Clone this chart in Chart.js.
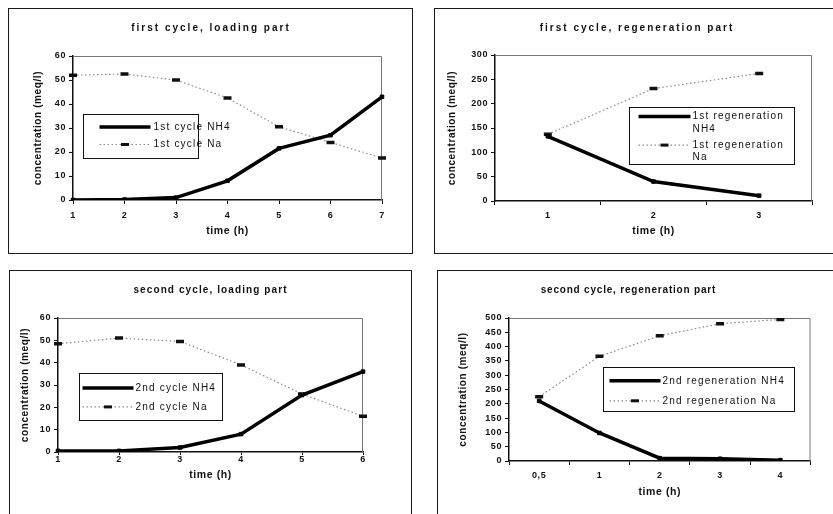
<!DOCTYPE html>
<html>
<head>
<meta charset="utf-8">
<script src="https://cdn.jsdelivr.net/npm/chart.js@4.4.1/dist/chart.umd.min.js"></script>
<style>
    html, body { margin: 0; padding: 0; background: #fff; width: 833px; height: 514px; overflow: hidden; }
    .frame { position: absolute; border: 1px solid #1a1a1a; box-sizing: border-box; background: #fff; }
    .frame canvas { position: absolute; left: 0; top: 0; }
</style>
</head>
<body>
<div class="frame" style="left:8px; top:8px; width:405px; height:246px;"><canvas id="loading1Chart" width="402" height="243"></canvas></div>
<div class="frame" style="left:434px; top:8px; width:420px; height:246px;"><canvas id="regen1Chart" width="402" height="243"></canvas></div>
<div class="frame" style="left:9px; top:270px; width:403px; height:260px;"><canvas id="loading2Chart" width="400" height="248"></canvas></div>
<div class="frame" style="left:437px; top:270px; width:420px; height:260px;"><canvas id="regen2Chart" width="380" height="248"></canvas></div>
<script>
// first cycle, loading part
const loading1Hours = ['1', '2', '3', '4', '5', '6', '7'];
const loading1NH4 = [0, 0.2, 1, 8, 21.5, 27, 43];
const loading1Na = [52, 52.5, 50, 42.5, 30.5, 24, 17.5];

// first cycle, regeneration part
const regen1Hours = ['1', '2', '3'];
const regen1NH4 = [133, 40, 11];
const regen1Na = [137, 231, 262];

// second cycle, loading part
const loading2Hours = ['1', '2', '3', '4', '5', '6'];
const loading2NH4 = [0.5, 0.5, 2, 8, 25.5, 36];
const loading2Na = [48.5, 51, 49.5, 39, 26, 16];

// second cycle, regeneration part
const regen2Hours = ['0,5', '1', '2', '3', '4'];
const regen2NH4 = [210, 98, 10, 8, 3];
const regen2Na = [225, 366, 438, 480, 495];

Chart.defaults.font.family = '"Liberation Sans", Arial, sans-serif';
Chart.defaults.color = '#111';

const ink = '#111';
const fontStack = '"Liberation Sans", Arial, sans-serif';

const nh4Style = {
    borderColor: '#000',
    borderWidth: 3.5,
    pointStyle: 'rect',
    pointRadius: 2.5,
    pointBackgroundColor: '#000',
    pointBorderColor: '#000',
    pointBorderWidth: 1,
    tension: 0,
};

const naStyle = {
    borderColor: '#8a8a8a',
    borderWidth: 1.2,
    borderDash: [1.5, 2.5],
    pointStyle: 'line',
    pointRadius: 4,
    pointBorderColor: ink,
    pointBorderWidth: 3.5,
    tension: 0,
};

// top and right edge of the plot area
const plotFrame = {
    id: 'plotFrame',
    beforeDatasetsDraw(chart) {
        const { ctx, chartArea } = chart;
        ctx.save();
        ctx.strokeStyle = '#777';
        ctx.lineWidth = 1;
        ctx.beginPath();
        ctx.moveTo(chartArea.left, chartArea.top + 0.5);
        ctx.lineTo(chartArea.right - 0.5, chartArea.top + 0.5);
        ctx.lineTo(chartArea.right - 0.5, chartArea.bottom);
        ctx.stroke();
        ctx.restore();
    },
};

// the scanned figure has widely spaced lettering; the title is drawn
// by hand, centred on the whole canvas like the original
const spacedText = {
    id: 'spacedText',
    beforeDraw(chart, args, opts) {
        chart.ctx.letterSpacing = '0.6px';
        const block = chart.titleBlock;
        if (block && !block._spaced) {
            block.draw = () => {
                const ctx = chart.ctx;
                const text = block.options.text;
                const spacing = opts.titleSpacing;
                ctx.save();
                ctx.font = 'bold 10px ' + fontStack;
                ctx.letterSpacing = spacing + 'px';
                ctx.fillStyle = ink;
                ctx.textAlign = 'left';
                ctx.textBaseline = 'middle';
                const width = ctx.measureText(text).width - spacing;
                const y = block.top + block._padding.top + 6;
                ctx.fillText(text, chart.width / 2 - width / 2, y);
                ctx.restore();
            };
            block._spaced = true;
        }
    },
};

// boxed legend sitting inside the plot area
const boxLegend = {
    id: 'boxLegend',
    afterDraw(chart, args, opts) {
        const { ctx, chartArea } = chart;
        const left = Math.round(chartArea.left + opts.x) + 0.5;
        const top = Math.round(chartArea.top + opts.y) + 0.5;
        ctx.save();
        ctx.setLineDash([]);
        ctx.fillStyle = '#fff';
        ctx.fillRect(left, top, opts.w, opts.h);
        ctx.strokeStyle = ink;
        ctx.lineWidth = 1;
        ctx.strokeRect(left, top, opts.w, opts.h);
        ctx.font = '10px ' + fontStack;
        ctx.letterSpacing = '1.2px';
        ctx.textAlign = 'left';
        ctx.textBaseline = 'middle';

        chart.data.datasets.forEach((ds, i) => {
            const rowY = top + opts.row0 + i * opts.rowGap;
            const x0 = left + opts.s0;
            const x1 = left + opts.s1;
            ctx.strokeStyle = ds.borderColor;
            ctx.lineWidth = ds.borderWidth;
            ctx.setLineDash(ds.borderDash || []);
            ctx.beginPath();
            ctx.moveTo(x0, rowY);
            ctx.lineTo(x1, rowY);
            ctx.stroke();
            ctx.setLineDash([]);
            if (ds.pointStyle === 'line') {
                ctx.fillStyle = ds.pointBorderColor;
                ctx.fillRect((x0 + x1) / 2 - 4, rowY - 1.5, 8, 3);
            }
            ctx.fillStyle = ink;
            const cut = ds.label.lastIndexOf(' ');
            const lines = opts.wrap ? [ds.label.slice(0, cut), ds.label.slice(cut + 1)] : [ds.label];
            lines.forEach((line, k) => ctx.fillText(line, left + opts.tx, rowY + k * opts.lineGap));
        });
        ctx.restore();
    },
};

function makePanel(canvasId, setup) {
    const canvas = document.getElementById(canvasId);
    if (!canvas) {
        return;
    }

    new Chart(canvas, {
        type: 'line',
        data: {
            labels: setup.hours,
            datasets: [
                { label: setup.names[0], data: setup.nh4, ...nh4Style },
                { label: setup.names[1], data: setup.na, ...naStyle },
            ],
        },
        plugins: [spacedText, plotFrame, boxLegend],
        options: {
            responsive: false,
            animation: false,
            events: [],
            layout: { padding: { left: 0, top: 0, bottom: 0, right: setup.padRight } },
            plugins: {
                legend: { display: false },
                tooltip: { enabled: false },
                title: {
                    display: true,
                    text: setup.title,
                    color: ink,
                    font: { size: 10, weight: 'bold' },
                    padding: { top: 13, bottom: setup.titleGap },
                },
                spacedText: { titleSpacing: setup.titleSpacing },
                boxLegend: setup.legend,
            },
            scales: {
                x: {
                    offset: setup.offset,
                    grid: {
                        drawOnChartArea: false,
                        offset: setup.offset,
                        color: ink,
                        tickLength: setup.xTickLength,
                    },
                    border: { color: ink, width: 1.5 },
                    ticks: {
                        color: ink,
                        font: { size: 9, weight: 'bold' },
                        padding: setup.xTickPad,
                        maxRotation: 0,
                        autoSkip: false,
                    },
                    title: {
                        display: true,
                        text: 'time (h)',
                        color: ink,
                        font: { size: 10.5, weight: 'bold' },
                        padding: { top: 0, bottom: setup.xTitlePad },
                    },
                    afterFit: (scale) => { scale.height = setup.xHeight; },
                },
                y: {
                    min: 0,
                    max: setup.yMax,
                    ticks: {
                        stepSize: setup.yStep,
                        autoSkip: false,
                        color: ink,
                        font: { size: 9, weight: 'bold' },
                        padding: 3,
                    },
                    grid: { drawOnChartArea: false, color: ink, tickLength: 4 },
                    border: { color: ink, width: 1.5 },
                    title: {
                        display: true,
                        text: 'concentration (meq/l)',
                        color: ink,
                        font: { size: 10, weight: 'bold' },
                        padding: { top: setup.yTitlePad, bottom: 0 },
                    },
                    afterFit: (scale) => { scale.width = setup.yWidth; },
                },
            },
        },
    });
}

document.addEventListener('DOMContentLoaded', () => {
    makePanel('loading1Chart', {
        title: 'first cycle, loading part',
        titleSpacing: 2,
        hours: loading1Hours,
        nh4: loading1NH4,
        na: loading1Na,
        names: ['1st cycle NH4', '1st cycle Na'],
        yMax: 60, yStep: 10, offset: false,
        padRight: 29, titleGap: 22, yWidth: 64, yTitlePad: 23, xHeight: 52,
        xTickLength: 4, xTickPad: 6, xTitlePad: 14.7,
        legend: { x: 10, y: 58, w: 115, h: 44, row0: 12.5, rowGap: 17.5, lineGap: 0, s0: 16, s1: 67, tx: 70, wrap: false },
    });

    makePanel('regen1Chart', {
        title: 'first cycle, regeneration part',
        titleSpacing: 2,
        hours: regen1Hours,
        nh4: regen1NH4,
        na: regen1Na,
        names: ['1st regeneration NH4', '1st regeneration Na'],
        yMax: 300, yStep: 50, offset: true,
        padRight: 25, titleGap: 21, yWidth: 60, yTitlePad: 11, xHeight: 51,
        xTickLength: 4, xTickPad: 5, xTitlePad: 14.7,
        legend: { x: 134, y: 52, w: 165, h: 57, row0: 9, rowGap: 28.6, lineGap: 12.6, s0: 9, s1: 61, tx: 63, wrap: true },
    });

    makePanel('loading2Chart', {
        title: 'second cycle, loading part',
        titleSpacing: 1.1,
        hours: loading2Hours,
        nh4: loading2NH4,
        na: loading2Na,
        names: ['2nd cycle NH4', '2nd cycle Na'],
        yMax: 60, yStep: 10, offset: false,
        padRight: 47, titleGap: 22, yWidth: 48, yTitlePad: 9, xHeight: 67,
        xTickLength: 3, xTickPad: -1, xTitlePad: 37.7,
        legend: { x: 21, y: 55, w: 143, h: 47, row0: 14.4, rowGap: 19, lineGap: 0, s0: 3, s1: 54, tx: 56, wrap: false },
    });

    makePanel('regen2Chart', {
        title: 'second cycle, regeneration part',
        titleSpacing: 0.8,
        hours: regen2Hours,
        nh4: regen2NH4,
        na: regen2Na,
        names: ['2nd regeneration NH4', '2nd regeneration Na'],
        yMax: 500, yStep: 50, offset: true,
        padRight: 7, titleGap: 22, yWidth: 71, yTitlePad: 19, xHeight: 58,
        xTickLength: 4, xTickPad: 5, xTitlePad: 20.7,
        legend: { x: 94, y: 49, w: 191, h: 44, row0: 13.3, rowGap: 20, lineGap: 0, s0: 6, s1: 57, tx: 59, wrap: false },
    });
});
</script>
</body>
</html>
